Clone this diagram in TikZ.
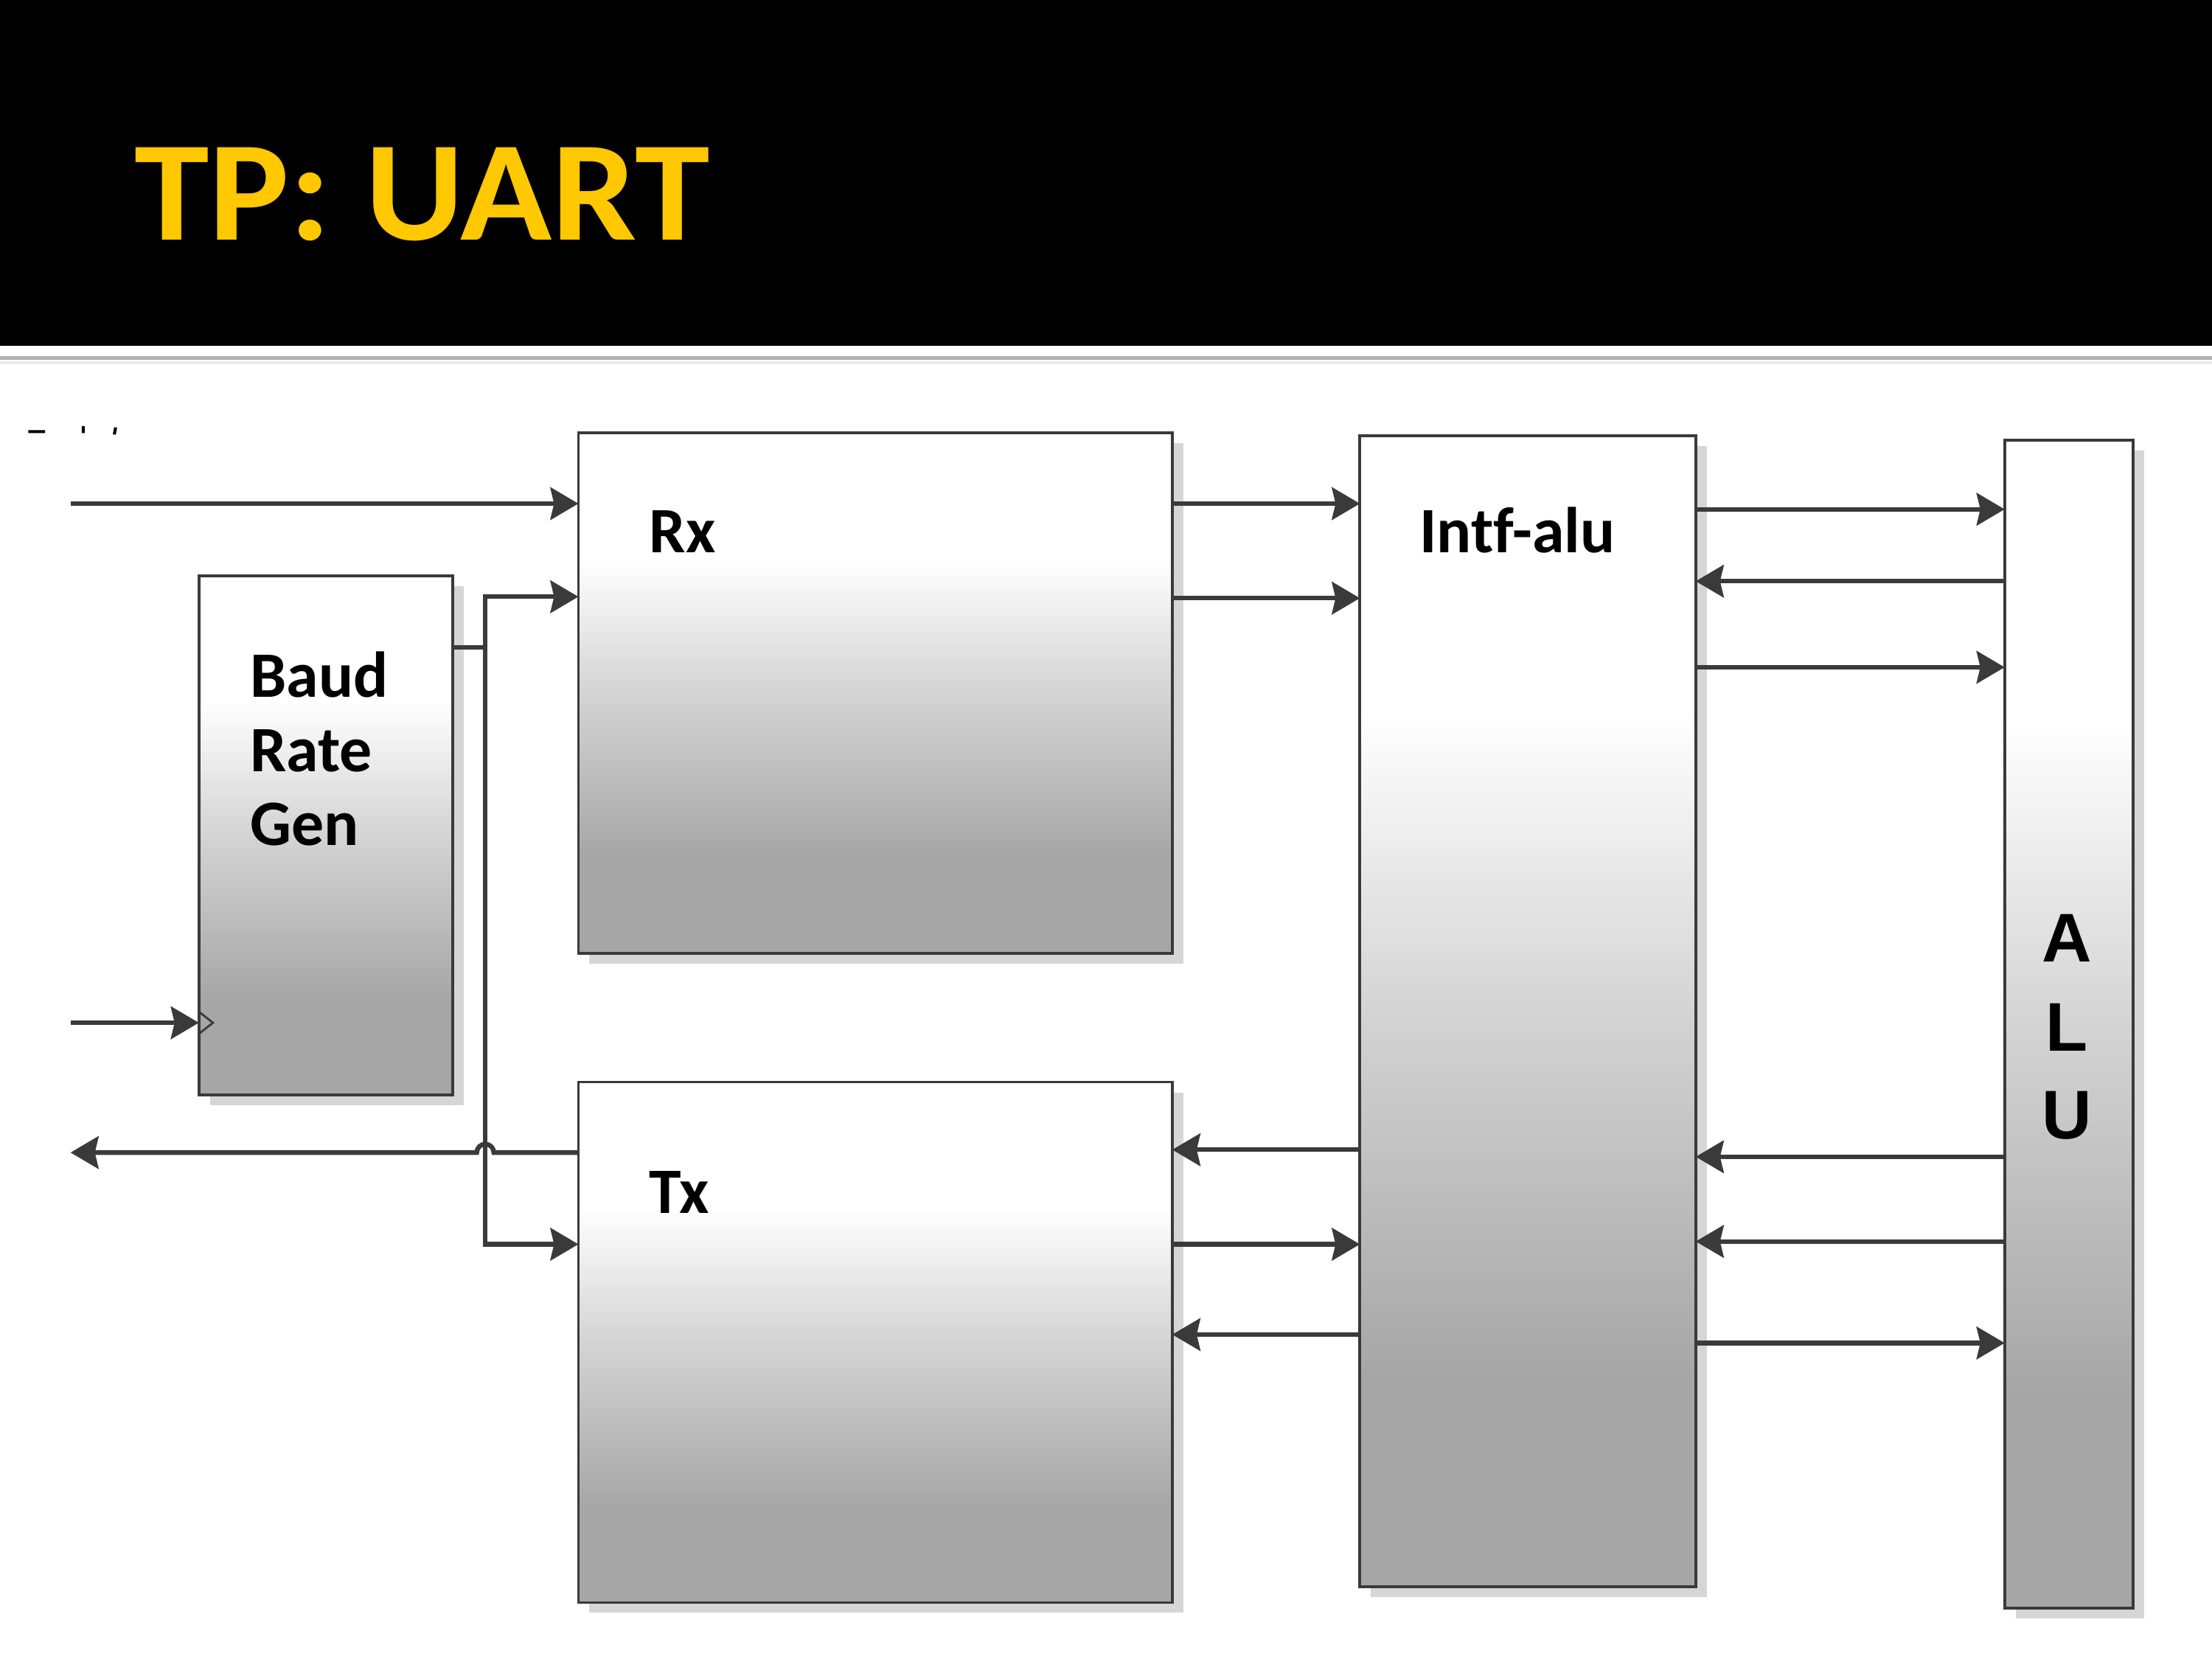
\documentclass[tikz,border=0pt]{standalone}
\usepackage{fontspec}
\setmainfont{Carlito}[Ligatures={NoCommon}]
\newfontfamily\alufont{Liberation Sans}
\usetikzlibrary{arrows.meta, shadows}

\definecolor{wirecol}{HTML}{3A3A3A}
\definecolor{titlecol}{HTML}{FFC800}
\pgfdeclareverticalshading{boxfade}{100bp}{color(0bp)=(black!35); color(25bp)=(black!35); color(34bp)=(black!35); color(50bp)=(black!17); color(63bp)=(white); color(100bp)=(white)}

\begin{document}
\begin{tikzpicture}
        [x=0.019133cm, y=-0.019133cm,
        block/.style={draw=wirecol, line width=1.1pt, shade, shading=boxfade,
           inner sep=0pt, outer sep=0pt,
           drop shadow={shadow xshift=0.15cm, shadow yshift=-0.14cm, fill=black!16, opacity=1}},
        arr/.style={-{Stealth[length=3.8mm,width=4.4mm,inset=0.5mm]}, draw=wirecol, line width=1.8pt},
        wire/.style={draw=wirecol, line width=1.8pt},
        lbl/.style={anchor=base west, inner sep=0pt, font=\fontsize{25}{30}\selectfont\bfseries},
        alulbl/.style={anchor=base, inner sep=0pt, font=\alufont\fontsize{26.6}{30}\selectfont\bfseries}]
        \useasboundingbox (0,0) rectangle (1568,1176);
        % header
        \fill[black] (0,0) rectangle (1568,245);
        \draw[gray!60, line width=0.05cm] (0,254) -- (1568,254);
        \draw[gray!15, line width=0.04cm] (0,257) -- (1568,257);
        \node (ttl) at (95,170) [anchor=base west, inner sep=0pt, text=titlecol,
           font=\fontsize{55}{60}\selectfont\bfseries] {\scalebox{1.06}[1]{TP: UART}};
        \draw[black, line width=0.04cm] (20,306) -- (32,306) (59,302) -- (59,307) (82,303) -- (81,308);
        % blocks
        \node (brg) at (231,592) [block, minimum width=3.444cm, minimum height=7.041cm] {};
        \node (rx) at (620.5,491.5) [block, minimum width=8.055cm, minimum height=7.060cm] {};
        \node (tx) at (620.5,951.5) [block, minimum width=8.055cm, minimum height=7.060cm] {};
        \node (intf) at (1083,717) [block, minimum width=4.554cm, minimum height=15.613cm] {};
        \node (alu) at (1466.5,726) [block, minimum width=1.741cm, minimum height=15.842cm] {};
        % labels
        \node (rxl) at (460,392) [lbl] {Rx};
        \node (txl) at (460,860) [lbl] {Tx};
        \node (intfl) at (1006,392) [lbl] {Intf-alu};
        \node (brg1) at (177,494) [lbl] {Baud};
        \node (brg2) at (177,547) [lbl] {Rate};
        \node (brg3) at (177,599) [lbl] {Gen};
        \node (alu1) at (1465,682) [alulbl] {A};
        \node (alu2) at (1465,745) [alulbl] {L};
        \node (alu3) at (1465,807) [alulbl] {U};
        % outside pins
        \coordinate (rxd) at (50,357);
        \coordinate (clk) at (50,725);
        \coordinate (txd) at (50,817);
        \coordinate (tick) at (344,459);
        \path (rxd) edge[arr] (rxd -| rx.west)
              (clk) edge[arr] (clk -| brg.west);
        \draw[wirecol, line width=0.8pt] ([yshift=0.15cm]brg.west |- clk) -- ++(0.19cm,-0.15cm) -- ++(-0.19cm,-0.15cm);
        % baud tick to rx and tx
        \draw[wire] (brg.east |- tick) -- (tick);
        \draw[arr] (tick) |- (rx.west |- 0,423);
        \draw[arr] (tick) |- (tx.west |- 0,882);
        \draw[arr] (tx.west |- txd) -- ([xshift=0.115cm]tick |- txd)
           arc[start angle=0, end angle=180, radius=0.115cm] -- (txd);
        % rx, tx and intf-alu
        \path (rx.east |- 0,357) edge[arr] (intf.west |- 0,357)
              (rx.east |- 0,424) edge[arr] (intf.west |- 0,424)
              (intf.west |- 0,815) edge[arr] (tx.east |- 0,815)
              (tx.east |- 0,882) edge[arr] (intf.west |- 0,882)
              (intf.west |- 0,946) edge[arr] (tx.east |- 0,946);
        % intf-alu and alu
        \path (intf.east |- 0,361) edge[arr] (alu.west |- 0,361)
              (alu.west |- 0,412) edge[arr] (intf.east |- 0,412)
              (intf.east |- 0,473) edge[arr] (alu.west |- 0,473)
              (alu.west |- 0,820) edge[arr] (intf.east |- 0,820)
              (alu.west |- 0,880) edge[arr] (intf.east |- 0,880)
              (intf.east |- 0,952) edge[arr] (alu.west |- 0,952);
     \end{tikzpicture}
\end{document}
